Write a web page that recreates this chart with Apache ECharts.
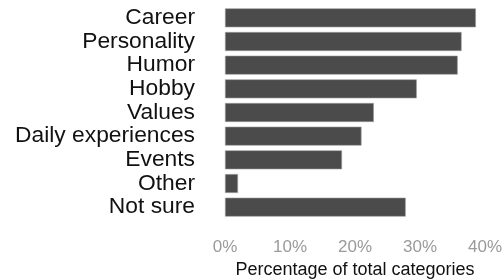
<!DOCTYPE html>
<html>
<head>
<meta charset="utf-8">
<script src="https://cdn.jsdelivr.net/npm/echarts@6/dist/echarts.min.js"></script>
<style>
  html, body { margin: 0; padding: 0; background: #fff; }
  #chart { width: 503px; height: 280px; }
</style>
</head>
<body>
<div id="chart"></div>
<script>
// categories, top to bottom as in the picture
var categories = ["Career", "Personality", "Humor", "Hobby", "Values", "Daily experiences", "Events", "Other", "Not sure"];
// percentage of total categories
var percents = [38.6, 36.4, 35.8, 29.5, 22.9, 21.0, 18.0, 2.0, 27.8];
var xTicks = [0, 10, 20, 30, 40];

var chart = echarts.init(document.getElementById("chart"));
chart.setOption({
  animation: false,
  grid: { left: 225, right: 18, top: 6, bottom: 61, outerBoundsMode: "none", containLabel: false },
  xAxis: {
    type: "value",
    min: xTicks[0],
    max: xTicks[xTicks.length - 1],
    interval: 10,
    axisLine: { show: false },
    axisTick: { show: false },
    splitLine: { show: false },
    axisLabel: {
      formatter: "{value}%",
      color: "#9a9a9a",
      fontFamily: "Liberation Sans",
      fontSize: 17,
      margin: 20
    },
    name: "Percentage of total categories",
    nameLocation: "middle",
    nameGap: 40,
    nameTextStyle: { color: "#111", fontFamily: "Liberation Sans", fontSize: 18 }
  },
  yAxis: {
    type: "category",
    data: categories,
    inverse: true,
    axisLine: { show: false },
    axisTick: { show: false },
    splitLine: { show: false },
    axisLabel: {
      interval: 0,
      color: "#111",
      fontFamily: "Liberation Sans",
      fontSize: 22.8,
      margin: 30
    }
  },
  series: [{
    type: "bar",
    data: percents,
    barCategoryGap: "20%",
    itemStyle: { color: "#4b4b4b", borderColor: "#9c9c9c", borderWidth: 0.6 }
  }]
});
</script>
</body>
</html>
